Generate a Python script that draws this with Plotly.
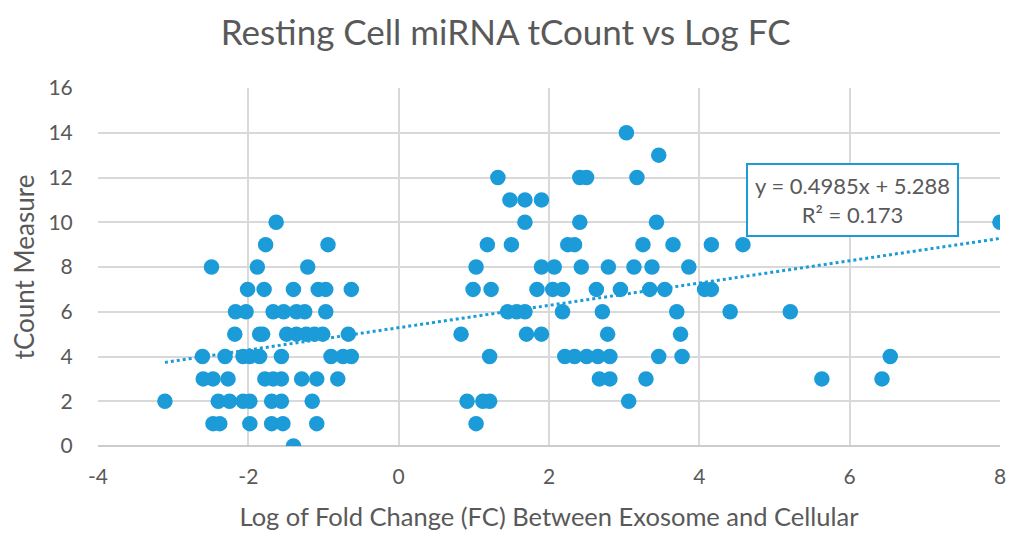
import plotly.graph_objects as go

# Data (x = log fold change, y = tCount)
left_x = [-1.63,
          -1.77, -0.94,
          -2.49, -1.88, -1.21,
          -2.01, -1.79, -1.40, -1.07, -0.97, -0.63,
          -2.17, -2.03, -1.67, -1.53, -1.36, -1.25, -0.97,
          -2.18, -1.85, -1.81, -1.49, -1.36, -1.23, -1.12, -1.01, -0.67,
          -2.61, -2.31, -2.07, -1.98, -1.85, -1.56, -0.90, -0.74, -0.63,
          -2.60, -2.47, -2.27, -1.78, -1.67, -1.56, -1.29, -1.09, -0.81,
          -3.11, -2.40, -2.25, -2.07, -1.98, -1.69, -1.56, -1.15,
          -2.47, -2.38, -1.98, -1.69, -1.54, -1.09,
          -1.40]
left_y = [10,
          9, 9,
          8, 8, 8,
          7, 7, 7, 7, 7, 7,
          6, 6, 6, 6, 6, 6, 6,
          5, 5, 5, 5, 5, 5, 5, 5, 5,
          4, 4, 4, 4, 4, 4, 4, 4, 4,
          3, 3, 3, 3, 3, 3, 3, 3, 3,
          2, 2, 2, 2, 2, 2, 2, 2,
          1, 1, 1, 1, 1, 1,
          0]

right_x = [3.03,
           3.46,
           1.32, 2.41, 2.50, 3.17,
           1.48, 1.68, 1.90,
           1.68, 2.41, 3.43, 8.00,
           1.18, 1.50, 2.25, 2.34, 3.25, 3.65, 4.16, 4.58,
           1.03, 1.90, 2.07, 2.43, 2.79, 3.13, 3.37, 3.86,
           0.99, 1.23, 1.84, 2.05, 2.18, 2.63, 2.95, 3.34, 3.54, 4.07, 4.16,
           1.45, 1.57, 1.68, 2.18, 2.71, 3.70, 4.41, 5.21,
           0.83, 1.70, 1.90, 2.78, 3.75,
           1.21, 2.21, 2.34, 2.50, 2.65, 2.81, 3.46, 3.77, 6.54,
           2.67, 2.81, 3.29, 5.63, 6.43,
           0.91, 1.12, 1.21, 3.06,
           1.03]
right_y = [14,
           13,
           12, 12, 12, 12,
           11, 11, 11,
           10, 10, 10, 10,
           9, 9, 9, 9, 9, 9, 9, 9,
           8, 8, 8, 8, 8, 8, 8, 8,
           7, 7, 7, 7, 7, 7, 7, 7, 7, 7, 7,
           6, 6, 6, 6, 6, 6, 6, 6,
           5, 5, 5, 5, 5,
           4, 4, 4, 4, 4, 4, 4, 4, 4,
           3, 3, 3, 3, 3,
           2, 2, 2, 2,
           1]

x_tick_vals = [-4, -2, 0, 2, 4, 6, 8]
x_tick_text = ["-4", "-2", "0", "2", "4", "6", "8"]

trend_slope = 0.4985
trend_intercept = 5.288
equation_text = "y = 0.4985x + 5.288<br>R² = 0.173"

x_vals = left_x + right_x
y_vals = left_y + right_y

FONT = "Lato"
GREY = "#595959"
BLUE = "#1B9BD7"

fig = go.Figure()

x0, x1 = min(x_vals), max(x_vals)
fig.add_trace(go.Scatter(
    x=[x0, x1],
    y=[trend_slope * x0 + trend_intercept, trend_slope * x1 + trend_intercept],
    mode="lines",
    line=dict(color=BLUE, width=3, dash="dot"),
    hoverinfo="skip", showlegend=False))

fig.add_trace(go.Scatter(
    x=x_vals, y=y_vals, mode="markers",
    marker=dict(color=BLUE, size=15.5, line=dict(width=0)),
    showlegend=False))

fig.add_annotation(
    x=6.04, y=11.0, xref="x", yref="y",
    text=equation_text, showarrow=False,
    font=dict(family=FONT, size=22, color=GREY),
    align="center", bgcolor="white",
    bordercolor=BLUE, borderwidth=2, borderpad=7)

fig.update_layout(
    width=1024, height=548,
    paper_bgcolor="white", plot_bgcolor="white",
    margin=dict(l=90, r=32, t=80, b=110),
    title=dict(text="Resting Cell miRNA tCount vs Log FC",
               x=0.486, xanchor="center", y=0.955, yanchor="middle",
               font=dict(family=FONT, size=35, color=GREY)),
    font=dict(family=FONT, color=GREY),
    xaxis=dict(range=[-4, 8], tickvals=x_tick_vals, ticktext=x_tick_text,
               showgrid=True, gridcolor="#D9D9D9", gridwidth=1.5,
               zeroline=True, zerolinecolor="#D9D9D9", zerolinewidth=1.5,
               showline=False,
               ticks="outside", ticklen=12, tickcolor="rgba(0,0,0,0)",
               tickfont=dict(family=FONT, size=21, color=GREY),
               title=dict(text="Log of Fold Change (FC) Between Exosome and Cellular",
                          font=dict(family=FONT, size=25.5, color=GREY), standoff=20)),
    yaxis=dict(range=[0, 16], dtick=2,
               showgrid=True, gridcolor="#D9D9D9", gridwidth=1.5,
               zeroline=True, zerolinecolor="#CCCCCC", zerolinewidth=1.5,
               ticks="outside", ticklen=20, tickcolor="rgba(0,0,0,0)",
               tickfont=dict(family=FONT, size=21, color=GREY),
               title=dict(text="tCount Measure",
                          font=dict(family=FONT, size=26, color=GREY), standoff=10)),
)

fig.write_html("out.html")
